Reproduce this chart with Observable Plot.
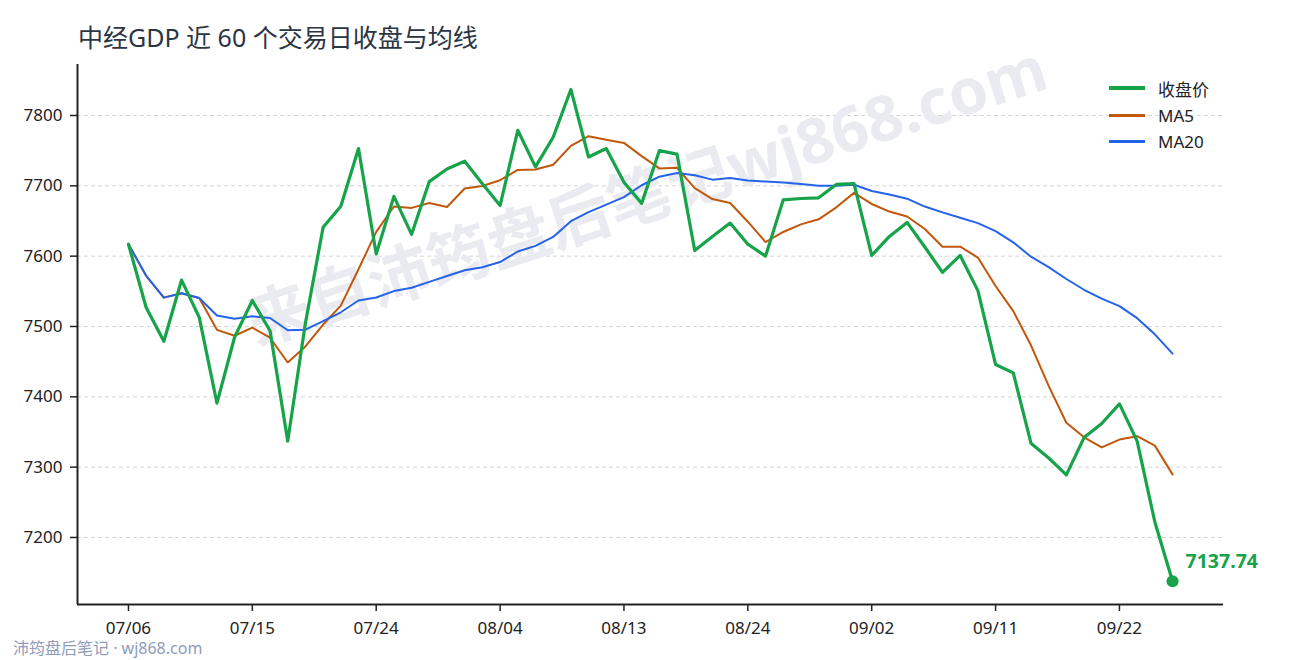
<!DOCTYPE html>
<html>
<head>
<meta charset="utf-8">
<script src="https://cdn.jsdelivr.net/npm/d3@7"></script>
<script src="https://cdn.jsdelivr.net/npm/@observablehq/plot@0.6"></script>
<style>
  body { margin: 0; background: #fff; font-family: "Noto Sans", "Noto Sans CJK SC", sans-serif; }
  #wrap { position: relative; width: 1290px; height: 660px; overflow: hidden; background: #fff; }
  #title { height: 56px; box-sizing: border-box; padding: 21px 0 0 78px; font-size: 25px; line-height: 32px; color: #2b3544; white-space: nowrap; }
  #legend { position: absolute; left: 1109px; top: 75px; }
  .lg { display: flex; align-items: center; height: 26.7px; font-size: 17px; color: #222; }
  .lg span.ln { display: inline-block; width: 36px; margin-right: 13px; }
  #caption { position: absolute; left: 13px; top: 637px; font-size: 16px; line-height: 22px; color: #8e9cba; white-space: nowrap; }
</style>
</head>
<body>
<div id="wrap">
  <div id="title">中经GDP 近 60 个交易日收盘与均线</div>
  <div id="chart"></div>
  <div id="legend"></div>
  <div id="caption">沛筠盘后笔记 · wj868.com</div>
</div>
<script>
// ---- data ----
const dates = [
  "07/06","07/07","07/08","07/09","07/10","07/13","07/14","07/15","07/16","07/17",
  "07/20","07/21","07/22","07/23","07/24","07/27","07/28","07/29","07/30","07/31",
  "08/03","08/04","08/05","08/06","08/07","08/10","08/11","08/12","08/13","08/14",
  "08/17","08/18","08/19","08/20","08/21","08/24","08/25","08/26","08/27","08/28",
  "08/31","09/01","09/02","09/03","09/04","09/07","09/08","09/09","09/10","09/11",
  "09/14","09/15","09/16","09/17","09/18","09/21","09/22","09/23","09/24","09/25"
];
const close = [
  7617,7527,7479,7566,7513,7391,7485,7537,7494,7337,
  7505,7641,7671,7753,7603,7685,7631,7706,7724,7735,
  7703,7672,7779,7727,7769,7837,7741,7753,7705,7675,
  7750,7745,7608,7628,7647,7617,7600,7680,7682,7683,
  7702,7703,7601,7628,7648,7613,7577,7601,7551,7446,
  7434,7334,7313,7289,7342,7362,7390,7337,7222,7137.74
];
const ma5 = [
  7617,7572,7541,7547.3,7540.4,7495.2,7486.8,7498.4,7484,7448.8,
  7471.6,7502.8,7529.6,7581.4,7634.6,7670.6,7668.6,7675.6,7669.8,7696.2,
  7699.8,7708,7722.6,7723.2,7730,7756.8,7770.6,7765.4,7761,7742.2,
  7724.8,7725.6,7696.6,7681.2,7675.6,7649,7620,7634.4,7645.2,7652.4,
  7669.4,7690,7674.2,7663.4,7656.4,7638.6,7613.4,7613.4,7598,7557.6,
  7521.8,7473.2,7415.6,7363.2,7342.4,7328,7339.2,7344,7330.6,7289.7
];
const ma20 = [
  7617,7572,7541,7547.3,7540.4,7515.5,7511.1,7514.4,7512.1,7494.6,
  7495.5,7507.7,7520.2,7536.9,7541.3,7550.3,7555,7563.4,7571.8,7580,
  7584.3,7591.6,7606.6,7614.6,7627.4,7649.7,7662.5,7673.3,7683.9,7700.8,
  7713,7718.2,7715.1,7708.8,7711,7707.6,7706.1,7704.8,7702.7,7700.1,
  7700,7701.6,7692.7,7687.7,7681.7,7670.5,7662.3,7654.7,7647,7635.5,
  7619.7,7599.2,7584.4,7567.5,7552.2,7539.5,7529,7511.8,7488.8,7461.5
];
const xTickLabels = ["07/06","07/15","07/24","08/04","08/13","08/24","09/02","09/11","09/22"];
const yTicks = [7200,7300,7400,7500,7600,7700,7800];
const seriesNames = ["收盘价","MA5","MA20"];
const seriesColors = ["#16a34a","#c2570c","#2563eb"];
const seriesWidths = [3.2,2,2];
const watermark = "来自沛筠盘后笔记wj868.com";

// ---- build ----
const rows = dates.map((d, i) => ({i, d, close: close[i], ma5: ma5[i], ma20: ma20[i]}));
const xDomain = [-2.88, dates.length - 1 + 2.88];
const yDomain = [7104.7, 7872.5];
const xTicks = xTickLabels.map(l => dates.indexOf(l));
const last = rows[rows.length - 1];

const chart = Plot.plot({
  width: 1290,
  height: 604,
  marginLeft: 77,
  marginRight: 67,
  marginTop: 8,
  marginBottom: 56,
  style: {fontFamily: '"Noto Sans", "Noto Sans CJK SC", sans-serif', fontSize: "17px", color: "#222", background: "transparent", overflow: "visible"},
  x: {domain: xDomain, label: null},
  y: {domain: yDomain, label: null},
  marks: [
    Plot.gridY(yTicks, {stroke: "#d4d4d4", strokeOpacity: 1, strokeDasharray: "4,3", strokeWidth: 1}),
    Plot.text([watermark], {text: d => d, frameAnchor: "middle", rotate: -18, fontSize: 63, fontWeight: 700, fill: "#e9ebf1", dx: -3, dy: -137}),
    Plot.line(rows, {x: "i", y: "ma5", stroke: seriesColors[1], strokeWidth: seriesWidths[1]}),
    Plot.line(rows, {x: "i", y: "ma20", stroke: seriesColors[2], strokeWidth: seriesWidths[2]}),
    Plot.line(rows, {x: "i", y: "close", stroke: seriesColors[0], strokeWidth: seriesWidths[0]}),
    Plot.dot([last], {x: "i", y: "close", r: 6, fill: seriesColors[0], stroke: "none"}),
    Plot.text([last], {x: "i", y: "close", text: d => d.close.toFixed(2), dx: 13, dy: -19.5, textAnchor: "start", fontSize: 19.5, fontWeight: 700, fill: seriesColors[0]}),
    Plot.axisX({ticks: xTicks, tickFormat: i => dates[i], tickSize: 7, tickPadding: 10, stroke: "#222", strokeWidth: 1.5, fontSize: 17, label: null}),
    Plot.axisY({ticks: yTicks, tickFormat: d => String(d), tickSize: 7, tickPadding: 8, stroke: "#222", strokeWidth: 1.5, fontSize: 17, label: null}),
    Plot.ruleX([xDomain[0]], {stroke: "#222", strokeWidth: 2}),
    Plot.ruleY([yDomain[0]], {stroke: "#222", strokeWidth: 2})
  ]
});
document.getElementById("chart").appendChild(chart);

// legend
const legend = document.getElementById("legend");
seriesNames.forEach((name, k) => {
  const row = document.createElement("div");
  row.className = "lg";
  const ln = document.createElement("span");
  ln.className = "ln";
  ln.style.height = (k === 0 ? 4 : 3) + "px";
  ln.style.background = seriesColors[k];
  const tx = document.createElement("span");
  tx.textContent = name;
  row.appendChild(ln);
  row.appendChild(tx);
  legend.appendChild(row);
});
</script>
</body>
</html>
